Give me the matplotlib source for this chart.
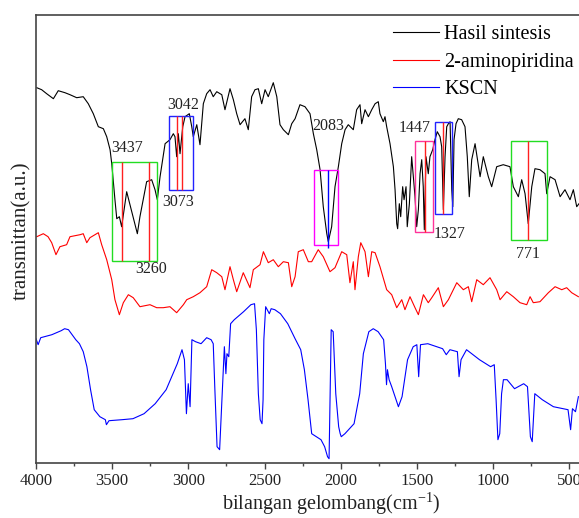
import matplotlib
matplotlib.use("Agg")
import matplotlib.pyplot as plt
from matplotlib.patches import Rectangle
from matplotlib.ticker import MultipleLocator

plt.rcParams['font.family'] = ['Liberation Serif', 'DejaVu Serif']
plt.rcParams['mathtext.fontset'] = 'custom'
plt.rcParams['mathtext.rm'] = 'Liberation Serif'
plt.rcParams['mathtext.it'] = 'Liberation Serif:italic'

# ---------------- data (wavenumber cm-1, transmittance a.u.) ----------------
black_wn = [3995, 3963, 3930, 3886, 3854, 3810, 3777, 3733, 3690, 3657, 3624, 3591, 3558, 3536,
            3514, 3503, 3482, 3470, 3453, 3438, 3405, 3335, 3318, 3274, 3241, 3219, 3204, 3186,
            3153, 3121, 3099, 3088, 3077, 3066, 3055, 3037, 3022, 2994, 2978, 2968, 2945, 2924,
            2902, 2880, 2858, 2837, 2814, 2781, 2760, 2727, 2705, 2683, 2661, 2629, 2607, 2585,
            2563, 2541, 2519, 2497, 2476, 2443, 2420, 2399, 2377, 2344, 2322, 2300, 2268, 2235,
            2202, 2180, 2158, 2136, 2115, 2092, 2082, 2060, 2038, 2016, 1994, 1972, 1951, 1918,
            1896, 1874, 1863, 1841, 1819, 1797, 1775, 1754,
            1743, 1721, 1710, 1699, 1677, 1655, 1644, 1633, 1627, 1616,
            1607, 1594, 1585, 1572, 1564, 1550, 1535, 1524, 1513, 1502,
            1491, 1480, 1469, 1459, 1452, 1441, 1426, 1415, 1397, 1382,
            1367, 1349, 1338, 1327, 1316, 1305, 1294, 1283, 1272, 1265,
            1257, 1244, 1229, 1207, 1185, 1170, 1157,
            1141, 1119, 1086, 1065, 1032, 1010, 977, 934, 890, 868, 835, 813, 791, 770,
            747, 726, 693, 660, 649, 627, 594, 561, 529, 496, 474, 452, 437]
black_t = [375, 373, 369, 364, 372, 370, 368, 365, 366, 359, 349, 336, 334, 326,
           313, 299, 263, 244, 246, 236, 271, 229, 246, 281, 283, 273, 263, 286,
           319, 323, 329, 326, 306, 329, 309, 336, 346, 349, 336, 326, 338, 318,
           359, 369, 373, 366, 371, 368, 353, 374, 363, 349, 338, 344, 333, 366,
           373, 374, 359, 373, 366, 380, 366, 338, 333, 328, 339, 344, 358, 356,
           349, 329, 313, 293, 256, 229, 221, 236, 276, 296, 319, 333, 338, 333,
           353, 358, 339, 353, 346, 353, 359, 361,
           349, 341, 346, 336, 319, 296, 273, 239, 234, 259,
           246, 276, 263, 276, 236, 259, 306, 286, 266, 236,
           253, 289, 303, 276, 233, 306, 289, 306, 313, 323,
           331, 326, 316, 253, 306, 336, 339, 341, 273, 256,
           323, 339, 344, 343, 336, 306, 266,
           303, 319, 286, 306, 286, 276, 296, 298, 296, 276, 266, 283, 269, 239,
           276, 294, 293, 289, 269, 286, 283, 266, 273, 263, 273, 256, 259]

red_wn = [3995, 3952, 3921, 3897, 3869, 3843, 3799, 3777, 3711, 3690, 3667, 3646, 3613, 3591,
          3569, 3536, 3503, 3482, 3453, 3427, 3394, 3362, 3318, 3252, 3208, 3165, 3121, 3077,
          3033, 3011, 2968, 2924, 2880, 2847, 2814, 2781, 2760, 2727, 2705, 2683, 2640, 2596,
          2574, 2530, 2508, 2476, 2443, 2410, 2377, 2344, 2322, 2300, 2279, 2246, 2213, 2191,
          2148, 2115, 2071, 2038, 1994, 1961, 1940, 1918, 1907, 1885, 1869, 1841, 1819, 1797,
          1775, 1743, 1699, 1666, 1633, 1600, 1579, 1546, 1513, 1491, 1458, 1426, 1403, 1360,
          1327, 1294, 1239, 1196, 1163, 1141, 1108, 1065, 1021, 977, 955, 911, 868, 824, 780,
          758, 737, 693, 638, 594, 550, 518, 485, 441]
red_t = [226, 229, 226, 220, 208, 216, 218, 226, 228, 229, 220, 225, 228, 230,
         218, 203, 183, 163, 148, 160, 168, 165, 156, 158, 155, 155, 156, 150,
         158, 163, 166, 170, 176, 193, 190, 186, 173, 196, 183, 171, 190, 175,
         193, 198, 211, 200, 203, 196, 201, 200, 176, 186, 211, 213, 201, 201,
         213, 206, 191, 195, 211, 208, 180, 201, 173, 206, 220, 211, 186, 211,
         210, 196, 173, 168, 155, 163, 153, 166, 155, 148, 168, 160, 165, 175,
         156, 163, 180, 173, 176, 161, 183, 178, 185, 173, 163, 171, 166, 160, 158,
         166, 160, 161, 170, 176, 173, 175, 170, 166]

blue_wn = [4000, 3986, 3969, 3896, 3835, 3812, 3787, 3739, 3715, 3690, 3666, 3642, 3618, 3581,
           3545, 3538, 3521, 3436, 3364, 3291, 3218, 3146, 3073, 3042, 3026, 3013, 3001, 2989,
           2977, 2953, 2917, 2880, 2851, 2837, 2827, 2812, 2795, 2783, 2771, 2764, 2754, 2747,
           2735, 2723, 2699, 2638, 2590, 2566, 2554, 2541, 2529, 2517, 2510, 2505, 2493, 2469,
           2457, 2433, 2396, 2348, 2300, 2263, 2239, 2215, 2191, 2130, 2106, 2087, 2077, 2070,
           2063, 2050, 2033, 2014, 2004, 1997, 1973, 1913, 1876, 1852, 1816, 1787, 1755, 1719,
           1707, 1700, 1694, 1683, 1666, 1622, 1598, 1562, 1525, 1501, 1489, 1477, 1429, 1332,
           1308, 1284, 1235, 1224, 1211, 1175, 1090, 1017, 993, 981, 969, 957, 945, 933, 909,
           860, 800, 775, 756, 744, 727, 678, 605, 509, 492, 480, 460, 441]
blue_t = [124, 118, 125, 128, 132, 134, 133, 123, 119, 111, 96, 73, 53, 46,
          43, 38, 42, 43, 44, 49, 59, 73, 99, 113, 103, 49, 79, 56,
          123, 121, 119, 125, 123, 119, 76, 16, 13, 53, 93, 116, 89, 109,
          106, 139, 143, 151, 158, 159, 133, 69, 43, 39, 63, 123, 156, 149,
          154, 153, 149, 139, 124, 113, 93, 63, 29, 23, 16, 6, 4, 69,
          133, 131, 69, 36, 29, 26, 29, 39, 69, 109, 131, 134, 131, 123,
          99, 78, 93, 83, 76, 56, 66, 103, 116, 118, 86, 118, 119, 114,
          108, 113, 111, 86, 103, 113, 103, 96, 98, 63, 23, 29, 69, 83, 83,
          74, 79, 76, 26, 21, 69, 63, 56, 53, 33, 54, 51, 66]

series_names = ['Hasil sintesis', '2-aminopiridina', 'KSCN']
peak_labels = ['3437', '3260', '3073', '3042', '2083', '1447', '1327', '771']
peak_wn = [3437, 3260, 3073, 3042, 2083, 1447, 1327, 771]

# ---------------- figure ----------------
fig = plt.figure(figsize=(5.79, 5.18), dpi=100)
ax = fig.add_axes([36 / 579, 55.3 / 518, 543 / 579, 448 / 518])

ax.plot(black_wn, black_t, color='black', lw=0.8, label=series_names[0])
ax.plot(red_wn, red_t, color='#ff0000', lw=0.8, label=series_names[1])
ax.plot(blue_wn, blue_t, color='#0000ff', lw=0.8, label=series_names[2])

# highlight boxes (wn_left, wn_right, t_bottom, t_top)
boxes = [
    (3503, 3208, 202, 301, '#22dd22'),
    (3129, 2972, 273, 347, '#2222ff'),
    (2174, 2016, 218, 293, '#ff00ff'),
    (1513, 1397, 231, 322, '#ff3399'),
    (1380, 1268, 249, 341, '#2222ff'),
    (883, 645, 223, 322, '#22dd22'),
]
for x0, x1, y0, y1, c in boxes:
    ax.add_patch(Rectangle((x1, y0), x0 - x1, y1 - y0, fill=False, edgecolor=c, lw=1.0, zorder=3))

# marker lines for peaks
ax.vlines([peak_wn[0], peak_wn[1]], 202, 301, color='#ff2020', lw=1.0, zorder=4)
ax.vlines([peak_wn[2], peak_wn[3]], 273, 347, color='#ff2020', lw=1.0, zorder=4)
ax.vlines([peak_wn[4]], 215, 293, color='#0000ff', lw=1.0, zorder=4)
ax.vlines([peak_wn[5]], 231, 322, color='#ff2020', lw=1.0, zorder=4)
ax.vlines([peak_wn[6]], 249, 341, color='#ff2020', lw=1.0, zorder=4)
ax.vlines([peak_wn[7]], 223, 322, color='#ff2020', lw=1.0, zorder=4)

# peak labels
label_pos = [(3403, 315), (3247, 194), (3068, 261), (3037, 358),
             (2086, 337), (1513, 335), (1283, 229), (770, 209)]
for txt, (px, py) in zip(peak_labels, label_pos):
    ax.text(px, py, txt, ha='center', va='center', fontsize=11.5, color='#222222', zorder=5)

ax.set_xlim(4000, 437)
ax.set_ylim(0, 448)
ax.set_yticks([])
ax.xaxis.set_major_locator(MultipleLocator(500))
ax.xaxis.set_minor_locator(MultipleLocator(250))
ax.tick_params(axis='x', which='major', length=4.5, width=1.0, color='#444444',
               labelsize=12, pad=3, labelcolor='#222222')
ax.tick_params(axis='x', which='minor', length=2.2, width=1.0, color='#444444')

for s in ['left', 'bottom', 'top']:
    ax.spines[s].set_color('#444444')
    ax.spines[s].set_linewidth(1.2)
ax.spines['right'].set_visible(False)

ax.set_xlabel(r'bilangan gelombang(cm$^{\mathregular{-1}}$)', fontsize=14.5, color='#222222')
ax.xaxis.label.set_va('center')
ax.xaxis.set_label_coords(0.543, -0.091)
ax.set_ylabel('transmittan(a.u.)', fontsize=15, color='#222222')
ax.yaxis.label.set_va('center')
ax.yaxis.set_label_coords(-0.026, 0.517)

ax.legend(loc='upper left', bbox_to_anchor=(0.657, 0.977), frameon=False, fontsize=14.5,
          handlelength=2.3, handletextpad=0.26, labelspacing=0.42, borderpad=0,
          borderaxespad=0)

fig.savefig('out.png', dpi=100)
